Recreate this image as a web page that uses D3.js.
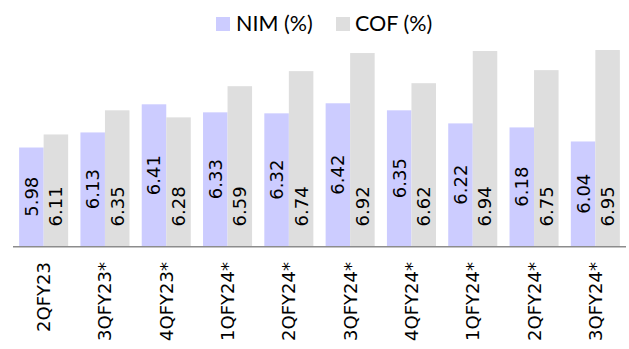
<!DOCTYPE html>
<html>
<head>
<meta charset="utf-8">
<script src="https://cdn.jsdelivr.net/npm/d3@7"></script>
<style>
  html, body { margin: 0; padding: 0; background: #fff; }
  svg { display: block; }
</style>
</head>
<body>
<svg id="chart" width="629" height="349"></svg>
<script>
// Quarterly net interest margin vs. cost of funds
const categories = ["2QFY23", "3QFY23*", "4QFY23*", "1QFY24*", "2QFY24*",
                    "3QFY24*", "4QFY24*", "1QFY24*", "2QFY24*", "3QFY24*"];
const nimValues = [5.98, 6.13, 6.41, 6.33, 6.32, 6.42, 6.35, 6.22, 6.18, 6.04];
const cofValues = [6.11, 6.35, 6.28, 6.59, 6.74, 6.92, 6.62, 6.94, 6.75, 6.95];
const seriesNames = ["NIM (%)", "COF (%)"];
const seriesColors = ["#ccccff", "#dedede"];

const svg = d3.select("#chart");
const left = 13, right = 626, baseY = 246, topY = 45;
const labelFont = "DejaVu Sans, sans-serif";

const x0 = d3.scaleBand()
  .domain(d3.range(categories.length))
  .range([left, right])
  .paddingInner(0.2)
  .paddingOuter(0.1);

const x1 = d3.scaleBand()
  .domain([0, 1])
  .range([0, x0.bandwidth()]);

const y = d3.scaleLinear().domain([5, 7]).range([baseY, topY]);

const rows = categories.map((c, i) => ({ i, c, vals: [nimValues[i], cofValues[i]] }));

const groups = svg.append("g").selectAll("g")
  .data(rows)
  .join("g")
  .attr("transform", d => `translate(${x0(d.i)},0)`);

groups.selectAll("rect")
  .data(d => d.vals.map((v, s) => ({ v, s })))
  .join("rect")
  .attr("x", d => x1(d.s))
  .attr("width", x1.bandwidth())
  .attr("y", d => y(d.v))
  .attr("height", d => y.range()[0] - y(d.v))
  .attr("fill", d => seriesColors[d.s]);

// value labels: NIM centred in its bar, COF anchored near the base
groups.selectAll("text.val")
  .data(d => d.vals.map((v, s) => ({ v, s })))
  .join("text")
  .attr("class", "val")
  .attr("transform", d => {
    const cx = x1(d.s) + x1.bandwidth() / 2;
    const cy = d.s === 0 ? (y(d.v) + baseY) / 2 : baseY - 19.5;
    return `translate(${cx},${cy}) rotate(-90)`;
  })
  .attr("text-anchor", d => d.s === 0 ? "middle" : "start")
  .attr("dy", "0.36em")
  .attr("font-family", labelFont)
  .attr("font-size", 18)
  .attr("fill", "#000")
  .text(d => d.v.toFixed(2));

// category axis
const axis = svg.append("g")
  .attr("transform", `translate(0,${baseY})`)
  .call(d3.axisBottom(x0).tickSize(0).tickPadding(0).tickFormat(i => categories[i]));
axis.select(".domain").attr("stroke", "#8c8c8c").attr("stroke-width", 1.5)
  .attr("d", `M${left},0.75H${right}`);
axis.selectAll(".tick text")
  .attr("font-family", labelFont)
  .attr("font-size", 18)
  .attr("fill", "#000")
  .attr("text-anchor", "end")
  .attr("transform", "translate(0,16) rotate(-90)")
  .attr("y", 0)
  .attr("x", 0)
  .attr("dy", "0.36em");

// legend
const legend = svg.append("g");
const legendItems = [{ x: 216, tx: 236 }, { x: 336, tx: 355 }];
legendItems.forEach((p, s) => {
  legend.append("rect").attr("x", p.x).attr("y", 17).attr("width", 14).attr("height", 14)
    .attr("fill", seriesColors[s]);
  legend.append("text").attr("x", p.tx).attr("y", 31)
    .attr("font-family", "Lato, 'Open Sans', sans-serif")
    .attr("font-size", 21.5)
    .attr("fill", "#000")
    .text(seriesNames[s]);
});
</script>
</body>
</html>
